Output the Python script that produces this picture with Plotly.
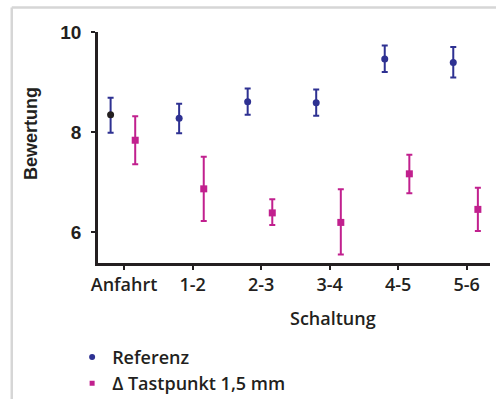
import plotly.graph_objects as go

categories = ["Anfahrt", "1-2", "2-3", "3-4", "4-5", "5-6"]
ref_mean = [8.35, 8.28, 8.61, 8.59, 9.46, 9.39]
ref_upper = [8.69, 8.57, 8.87, 8.85, 9.73, 9.70]
ref_lower = [7.99, 7.98, 8.35, 8.33, 9.20, 9.09]
tp_mean = [7.84, 6.87, 6.39, 6.20, 7.17, 6.46]
tp_upper = [8.32, 7.51, 6.66, 6.86, 7.55, 6.89]
tp_lower = [7.36, 6.23, 6.15, 5.56, 6.78, 6.03]
y_ticks = [6, 8, 10]
series_names = ["Referenz", "Δ Tastpunkt 1,5 mm"]

BLUE = "#2e3192"
MAGENTA = "#c1208e"
BLACK = "#231f20"

idx = list(range(len(categories)))
ref_x = [i - 0.196 for i in idx]
tp_x = [i + 0.163 for i in idx]

ref_colors = [BLACK] + [BLUE] * (len(categories) - 1)

fig = go.Figure()
fig.add_trace(go.Scatter(
    x=ref_x, y=ref_mean, mode="markers", name=series_names[0], showlegend=False,
    marker=dict(symbol="circle", size=7, color=ref_colors),
    error_y=dict(type="data", symmetric=False,
                 array=[u - m for u, m in zip(ref_upper, ref_mean)],
                 arrayminus=[m - l for m, l in zip(ref_mean, ref_lower)],
                 color=BLUE, thickness=2, width=3),
))
fig.add_trace(go.Scatter(
    x=tp_x, y=tp_mean, mode="markers", name=series_names[1], showlegend=False,
    marker=dict(symbol="square", size=7, color=MAGENTA),
    error_y=dict(type="data", symmetric=False,
                 array=[u - m for u, m in zip(tp_upper, tp_mean)],
                 arrayminus=[m - l for m, l in zip(tp_mean, tp_lower)],
                 color=MAGENTA, thickness=2, width=3),
))
# legend entries
fig.add_trace(go.Scatter(x=[None], y=[None], mode="markers", name=series_names[0],
                         marker=dict(symbol="circle", size=6, color=BLUE)))
fig.add_trace(go.Scatter(x=[None], y=[None], mode="markers", name=series_names[1],
                         marker=dict(symbol="square", size=5, color=MAGENTA)))

fig.update_layout(
    width=496, height=399,
    margin=dict(l=98, r=6, t=32, b=136, autoexpand=False),
    paper_bgcolor="white", plot_bgcolor="white",
    showlegend=True,
    legend=dict(x=-0.066, y=-0.328, xanchor="left", yanchor="top",
                font=dict(family="Open Sans", size=18, color=BLACK, weight=600),
                bgcolor="rgba(0,0,0,0)", tracegroupgap=0, itemclick=False),
    xaxis=dict(range=[-0.38, 5.34], tickmode="array", tickvals=idx, ticktext=categories,
               showgrid=False, zeroline=False, showline=True, linecolor=BLACK, linewidth=2.5,
               ticks="outside", ticklen=4, tickwidth=2, tickcolor=BLACK,
               tickfont=dict(family="Open Sans", size=18, color=BLACK, weight=600)),
    yaxis=dict(range=[5.39, 10], tickmode="array", tickvals=y_ticks,
               showgrid=False, zeroline=False, showline=True, linecolor=BLACK, linewidth=2.5,
               ticks="outside", ticklen=4, tickwidth=2, tickcolor=BLACK, ticklabelstandoff=6,
               tickfont=dict(family="Liberation Sans", size=19, color=BLACK, weight="bold")),
    annotations=[
        dict(text="Schaltung", xref="paper", yref="paper", x=0.6, y=-0.24,
             xanchor="center", yanchor="middle", showarrow=False,
             font=dict(family="Open Sans", size=18, color=BLACK, weight=600)),
        dict(text="Bewertung", xref="paper", yref="paper", x=-0.171, y=0.563,
             xanchor="center", yanchor="middle", showarrow=False, textangle=-90,
             font=dict(family="Liberation Sans", size=18, color=BLACK, weight="bold")),
    ],
    shapes=[
        dict(type="line", xref="paper", yref="paper", x0=-0.220, x1=1.02, y0=1.106, y1=1.106,
             line=dict(color="#d6d6d6", width=2.5)),
        dict(type="line", xref="paper", yref="paper", x0=-0.220, x1=-0.220, y0=1.106, y1=-0.6,
             line=dict(color="#d6d6d6", width=2.5)),
    ],
)

fig.write_html("out.html", config={"displayModeBar": False},
               post_script="document.body.style.margin='0';document.body.style.overflow='hidden';")
